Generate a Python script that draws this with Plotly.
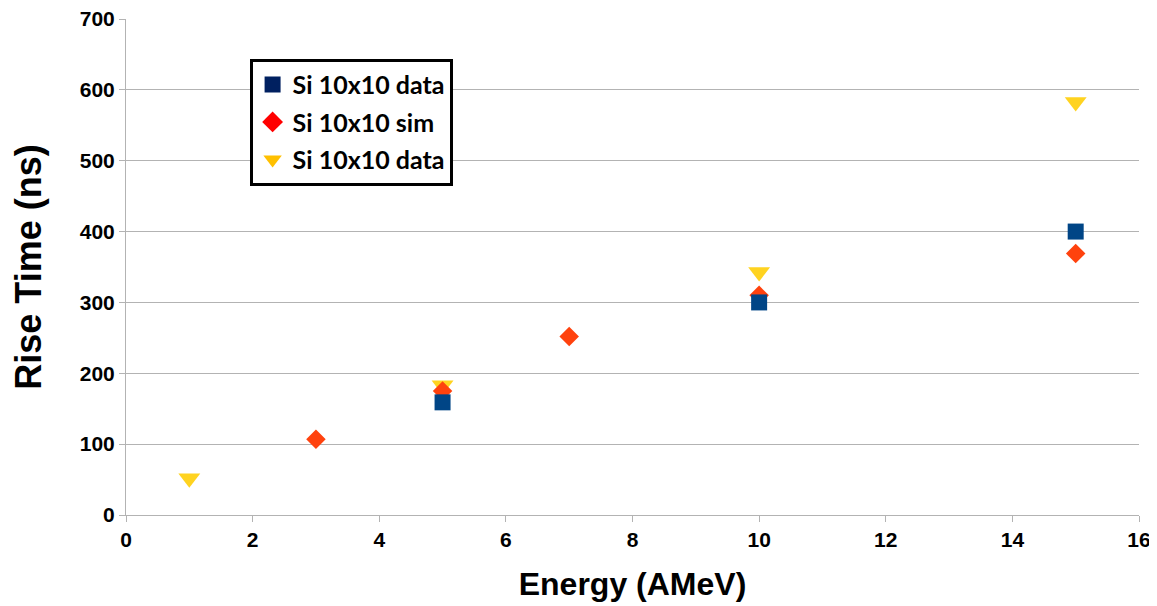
import plotly.graph_objects as go

# Data
sq_x = [5, 10, 15]
sq_y = [159, 300, 400]
dia_x = [3, 5, 7, 10, 15]
dia_y = [107, 175, 252, 310, 369]
tri_x = [1, 5, 10, 15]
tri_y = [52, 183, 343, 583]

legend_names = ["Si 10x10 data", "Si 10x10 sim", "Si 10x10 data"]

sq_color = "#004586"
dia_color = "#ff420e"
tri_color = "#ffd320"

fig = go.Figure()
# plotted markers (no legend)
fig.add_trace(go.Scatter(x=tri_x, y=tri_y, mode="markers", showlegend=False,
                         marker=dict(symbol="triangle-down", size=19, color=tri_color)))
fig.add_trace(go.Scatter(x=dia_x, y=dia_y, mode="markers", showlegend=False,
                         marker=dict(symbol="diamond", size=15, color=dia_color)))
fig.add_trace(go.Scatter(x=sq_x, y=sq_y, mode="markers", showlegend=False,
                         marker=dict(symbol="square", size=16, color=sq_color)))
# legend entries
fig.add_trace(go.Scatter(x=[None], y=[None], mode="markers", name=legend_names[0], legendgroup="a",
                         marker=dict(symbol="square", size=16, color="#002060")))
fig.add_trace(go.Scatter(x=[None], y=[None], mode="markers", name=legend_names[1], legendgroup="b",
                         marker=dict(symbol="diamond", size=19, color="#ff0000")))
fig.add_trace(go.Scatter(x=[None], y=[None], mode="markers", name=legend_names[2], legendgroup="c",
                         marker=dict(symbol="triangle-down", size=21, color="#ffc000")))

axis_common = dict(
    showline=True, linecolor="#b3b3b3", linewidth=1,
    ticks="outside", ticklen=6, tickcolor="#b3b3b3",
    tickfont=dict(family="Liberation Sans, Arial", size=21, color="black", weight="bold"),
    zeroline=False, automargin=False, ticklabeloverflow="allow",
)

fig.update_layout(
    width=1149, height=598,
    margin=dict(l=118, r=18, t=11, b=91),
    plot_bgcolor="white", paper_bgcolor="white",
    xaxis=dict(range=[0, 16], dtick=2, showgrid=False,
               title=dict(text="Energy (AMeV)", standoff=22,
                          font=dict(family="Liberation Sans, Arial", size=32, color="black", weight="bold")),
               **axis_common),
    yaxis=dict(range=[0, 700], dtick=100, showgrid=True, gridcolor="#b3b3b3", gridwidth=1,
               title=dict(text="Rise Time (ns)", standoff=34,
                          font=dict(family="Liberation Sans, Arial", size=36, color="black", weight="bold")),
               **axis_common),
    legend=dict(x=0.122, y=0.92, xanchor="left", yanchor="top",
                bgcolor="white", bordercolor="black", borderwidth=3,
                font=dict(family="Lato, Noto Sans", size=25, color="black", weight="bold"),
                tracegroupgap=2, itemsizing="trace"),
)

fig.write_html("out.html")
